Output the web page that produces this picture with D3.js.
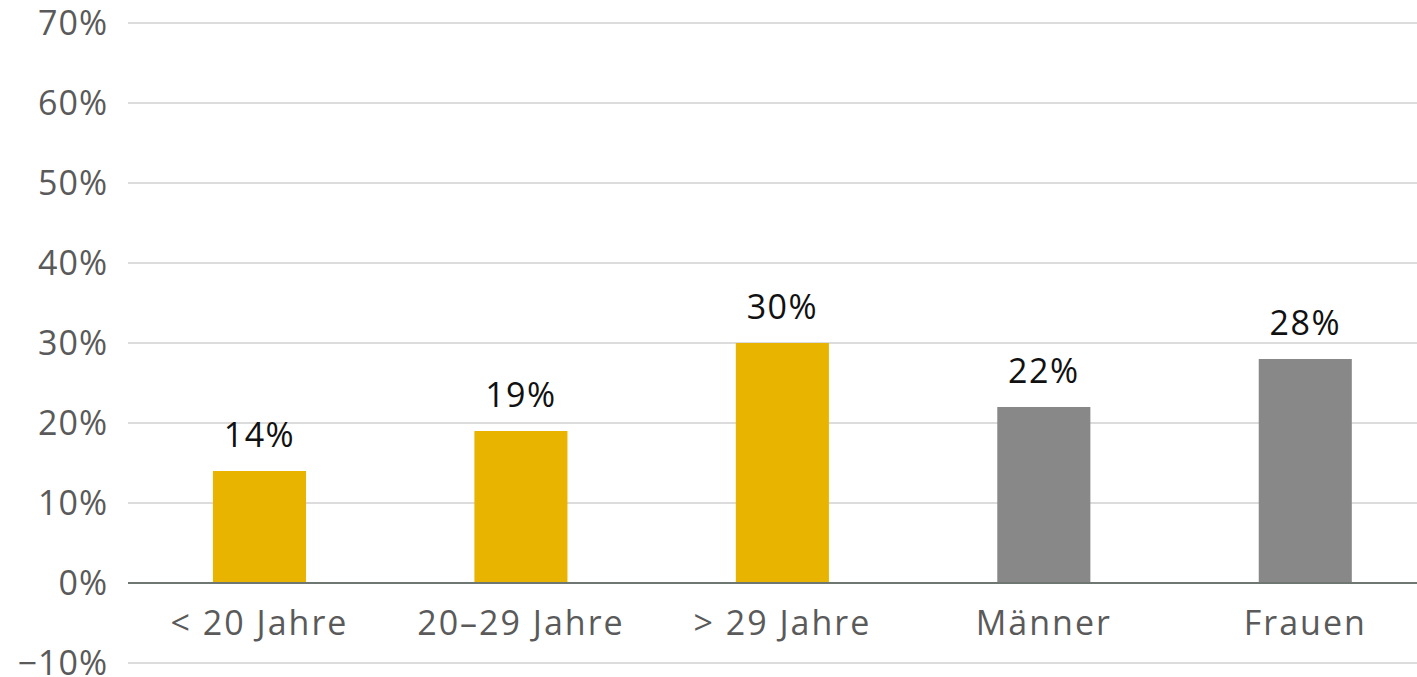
<!DOCTYPE html>
<html><head><meta charset="utf-8">
<script src="https://cdn.jsdelivr.net/npm/d3@7"></script>
<style>
html,body{margin:0;padding:0;background:#fff;overflow:hidden}
text{font-family:"Open Sans",sans-serif}
</style></head>
<body><svg id="c" width="1417" height="677"></svg>
<script>
const categories = ["< 20 Jahre", "20–29 Jahre", "> 29 Jahre", "Männer", "Frauen"];
const values = [14, 19, 30, 22, 28];
const groups = ["age", "age", "age", "sex", "sex"];
const yTicks = [-10, 0, 10, 20, 30, 40, 50, 60, 70];
const colors = {age: "#E8B400", sex: "#888888"};

const svg = d3.select("#c");
const x = d3.scaleBand().domain(categories).range([128.75, 1436]).paddingInner(0.644).paddingOuter(0.322);
const y = d3.scaleLinear().domain([-10, 70]).range([663, 23]);

// gridlines
svg.append("g").selectAll("line").data(yTicks.filter(d => d !== 0)).join("line")
  .attr("x1", 128).attr("x2", 1417)
  .attr("y1", d => y(d)).attr("y2", d => y(d))
  .attr("stroke", "#dcdcdc").attr("stroke-width", 2);

// y tick labels
svg.append("g").selectAll("text").data(yTicks).join("text")
  .attr("x", 108).attr("y", d => y(d)).attr("dy", "0.36em")
  .attr("text-anchor", "end").attr("fill", "#5a5a5a")
  .attr("font-size", 34).attr("letter-spacing", 1)
  .text(d => (d < 0 ? "−" + Math.abs(d) : d) + "%");

// bars
svg.append("g").selectAll("rect").data(values).join("rect")
  .attr("x", (d, i) => x(categories[i]))
  .attr("width", x.bandwidth())
  .attr("y", d => y(d))
  .attr("height", d => y(0) - y(d))
  .attr("fill", (d, i) => colors[groups[i]]);

// zero line
svg.append("line").attr("x1", 128).attr("x2", 1417)
  .attr("y1", y(0)).attr("y2", y(0))
  .attr("stroke", "#6f7772").attr("stroke-width", 2);

// value labels
svg.append("g").selectAll("text").data(values).join("text")
  .attr("x", (d, i) => x(categories[i]) + x.bandwidth() / 2)
  .attr("y", d => y(d) - 24)
  .attr("text-anchor", "middle").attr("fill", "#111")
  .attr("font-size", 34).attr("letter-spacing", 1.5)
  .text(d => d + "%");

// category labels
svg.append("g").selectAll("text").data(categories).join("text")
  .attr("x", d => x(d) + x.bandwidth() / 2)
  .attr("y", 635)
  .attr("text-anchor", "middle").attr("fill", "#5a5a5a")
  .attr("font-size", 34).attr("letter-spacing", 2)
  .text(d => d);
</script></body></html>
